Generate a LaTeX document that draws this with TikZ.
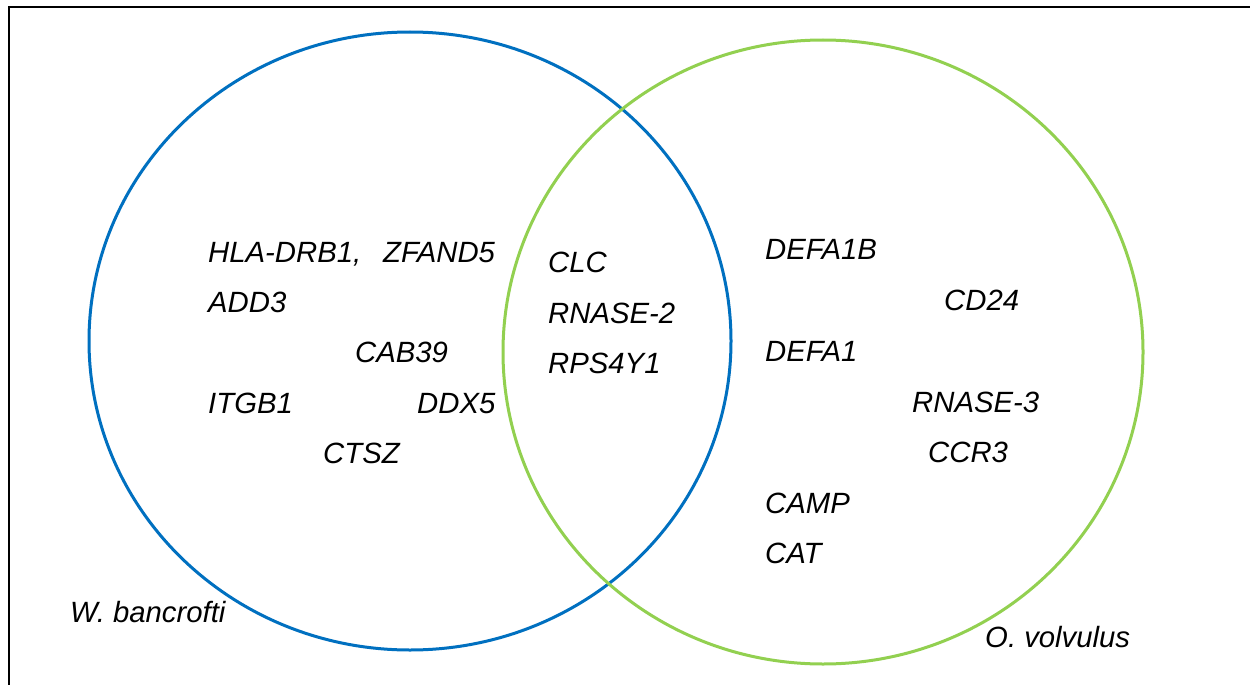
\documentclass[tikz,border=0pt]{standalone}
\usepackage{fontspec}
\setmainfont{Liberation Sans}
\definecolor{wbblue}{HTML}{0070C0}
\definecolor{ovgreen}{HTML}{92D050}
\begin{document}
\begin{tikzpicture}[x=1pt,y=-1pt,
  gene/.style={anchor=base west,inner sep=0pt,font=\fontsize{29.3}{34}\selectfont\itshape},
  setring/.style={line width=3pt}]
\useasboundingbox (0,0) rectangle (1250,685);
\fill[white] (0,0) rectangle (1250,685);
\draw[line width=2.2pt] (9,690) -- (9,7) -- (1255,7);
\draw[setring,wbblue] (410,341) ellipse[x radius=321,y radius=309];
\draw[setring,ovgreen] (823,352) ellipse[x radius=320,y radius=312];
% W. bancrofti only
\node[gene] (hla) at (208,262) {HLA-DRB1,};
\node[gene] (zfand5) at (383,262) {ZFAND5};
\node[gene] (add3) at (208,312) {ADD3};
\node[gene] (cab39) at (355,362) {CAB39};
\node[gene] (itgb1) at (208,413) {ITGB1};
\node[gene] (ddx5) at (417,413) {DDX5};
\node[gene] (ctsz) at (323,463) {CTSZ};
% shared
\node[gene] (clc) at (548,272) {CLC};
\node[gene] (rnase2) at (548,323) {RNASE-2};
\node[gene] (rps4y1) at (548,373) {RPS4Y1};
% O. volvulus only
\node[gene] (defa1b) at (765,259) {DEFA1B};
\node[gene] (cd24) at (944,310) {CD24};
\node[gene] (defa1) at (765,361) {DEFA1};
\node[gene] (rnase3) at (912,412) {RNASE-3};
\node[gene] (ccr3) at (928,462) {CCR3};
\node[gene] (camp) at (765,513) {CAMP};
\node[gene] (cat) at (765,563) {CAT};
% set labels
\node[gene] (wb) at (70,622) {W. bancrofti};
\node[gene] (ov) at (985,647) {O. volvulus};
\end{tikzpicture}
\end{document}
